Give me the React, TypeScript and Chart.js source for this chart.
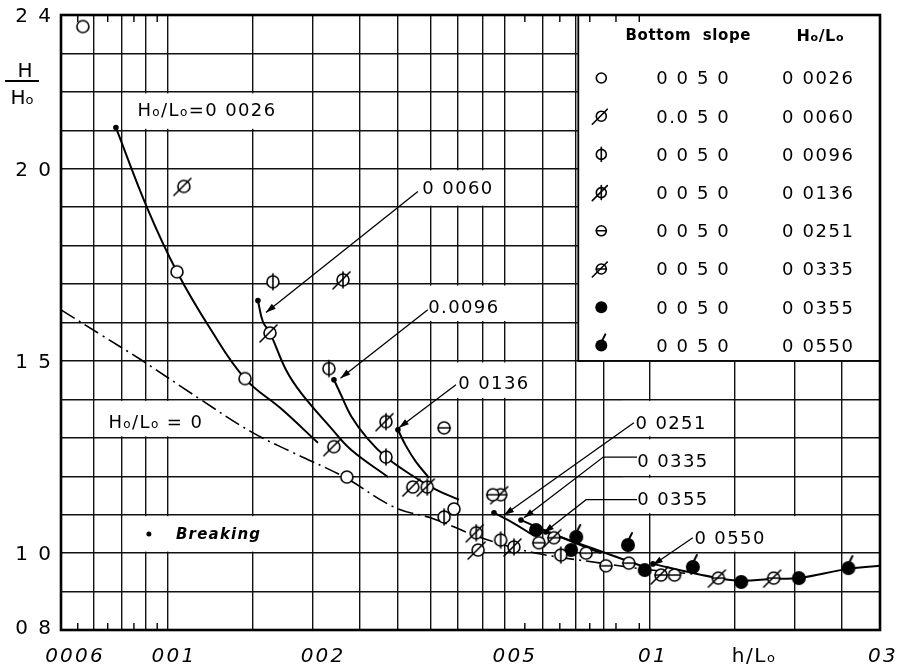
import React, { useEffect, useRef } from "react";
import { Chart, registerables } from "chart.js";
Chart.register(...registerables);

// ---------- axes ----------
const X_MIN = 0.006;
const X_MAX = 0.3;
const Y_MIN = 0.8;
const Y_MAX = 2.4;
const X_GRID = [0.006, 0.007, 0.008, 0.009, 0.01, 0.015, 0.02, 0.025, 0.03, 0.035, 0.04, 0.045, 0.05, 0.06, 0.07, 0.08, 0.1, 0.15, 0.2, 0.25, 0.3];
const X_MINOR = [0.0065, 0.0075, 0.0085, 0.0095, 0.055, 0.065, 0.075, 0.085, 0.095];
const Y_GRID = [0.8, 0.9, 1.0, 1.1, 1.2, 1.3, 1.4, 1.5, 1.6, 1.7, 1.8, 1.9, 2.0, 2.1, 2.2, 2.3, 2.4];
const X_TICK_VALUES = [0.006, 0.01, 0.02, 0.05, 0.1, 0.3];
const X_TICK_LABELS = ["0006", "001", "002", "005", "01", "03"];
const X_TICK_SHIFT = [14, 6, 10, 10, 3, 3];
const Y_TICK_VALUES = [0.8, 1.0, 1.5, 2.0, 2.4];
const Y_TICK_LABELS = ["0 8", "1 0", "1 5", "2 0", "2 4"];
const X_TITLE = "h/Lo";
const X_TITLE_AT = 0.1644;

// ---------- legend ----------
const HOLO_LABELS = ["0 0026", "0 0060", "0 0096", "0 0136", "0 0251", "0 0335", "0 0355", "0 0550"];
const SLOPE_LABELS = ["0 0 5 0", "0.0 5 0", "0 0 5 0", "0 0 5 0", "0 0 5 0", "0 0 5 0", "0 0 5 0", "0 0 5 0"];
const MARKER_KINDS = ["open", "slash", "vbar", "vbarSlash", "hbar", "hbarSlash", "filled", "filledTail"];
const LEGEND_X0 = 0.071;
const LEGEND_Y0 = 1.5;

// ---------- measured points ----------
const X_0026 = [0.00666, 0.01044, 0.01445, 0.0235, 0.0392];
const Y_0026 = [2.37, 1.732, 1.454, 1.198, 1.115];
const X_0060 = [0.01079, 0.01628, 0.02209, 0.0322, 0.044];
const Y_0060 = [1.954, 1.573, 1.277, 1.172, 1.008];
const X_0096 = [0.01651, 0.02157, 0.02833, 0.0374, 0.049, 0.0653];
const Y_0096 = [1.706, 1.48, 1.25, 1.094, 1.034, 0.995];
const X_0136 = [0.02307, 0.02833, 0.0345, 0.0436, 0.0522];
const Y_0136 = [1.711, 1.342, 1.172, 1.053, 1.016];
const X_0251 = [0.0374, 0.0472, 0.0588, 0.0737, 0.081, 0.0904, 0.1124];
const Y_0251 = [1.326, 1.152, 1.027, 1.0, 0.967, 0.974, 0.943];
const X_0335 = [0.049, 0.0632, 0.1054, 0.1386, 0.1805];
const Y_0335 = [1.152, 1.04, 0.943, 0.935, 0.935];
const X_0355 = [0.058, 0.0686, 0.0975, 0.1546, 0.2036];
const Y_0355 = [1.06, 1.008, 0.956, 0.925, 0.935];
const X_0550 = [0.0703, 0.09, 0.1227, 0.258];
const Y_0550 = [1.042, 1.021, 0.964, 0.961];

// ---------- fitted curves ----------
const CX_ZERO = [0.006, 0.00726, 0.00879, 0.01171, 0.01486, 0.01799, 0.0232, 0.02943, 0.03564, 0.04193, 0.04612, 0.05744, 0.07912, 0.1005, 0.1227];
const CY_ZERO = [1.633, 1.568, 1.503, 1.399, 1.316, 1.264, 1.198, 1.12, 1.089, 1.053, 1.034, 1.001, 0.974, 0.956, 0.946];
const CX_0026 = [0.0078, 0.00905, 0.01044, 0.01228, 0.01445, 0.01716, 0.02047];
const CY_0026 = [2.107, 1.899, 1.732, 1.581, 1.454, 1.376, 1.287];
const CX_0060 = [0.01537, 0.01574, 0.01628, 0.01757, 0.01888, 0.02178, 0.02398, 0.02861];
const CY_0060 = [1.657, 1.602, 1.573, 1.477, 1.417, 1.326, 1.269, 1.198];
const CX_0096 = [0.0221, 0.02285, 0.02398, 0.02587, 0.02833, 0.03192, 0.03597, 0.04015];
const CY_0096 = [1.451, 1.412, 1.357, 1.3, 1.25, 1.204, 1.165, 1.139];
const CX_0136 = [0.03, 0.03117, 0.0327, 0.03479];
const CY_0136 = [1.321, 1.279, 1.2375, 1.196];
const CX_0251 = [0.04746, 0.05197, 0.05663];
const CY_0251 = [1.105, 1.079, 1.05];
const CX_0335 = [0.054, 0.0653, 0.0791];
const CY_0335 = [1.086, 1.042, 1.0];
const CX_0355 = [0.0608, 0.0754, 0.0958];
const CY_0355 = [1.055, 1.014, 0.967];
const CX_0550 = [0.1014, 0.1227, 0.1386, 0.1546, 0.1805, 0.2036, 0.258, 0.3];
const CY_0550 = [0.972, 0.948, 0.935, 0.928, 0.933, 0.935, 0.959, 0.967];

// breaking points
const BREAK_X = [0.0078, 0.01537, 0.0221, 0.03, 0.04746, 0.054, 0.0608, 0.1014];
const BREAK_Y = [2.107, 1.657, 1.451, 1.321, 1.105, 1.086, 1.055, 0.972];

// ---------- annotations ----------
const NOTE_TEXT = ["Ho/Lo=0 0026", "0 0060", "0.0096", "0 0136", "0 0251", "0 0335", "0 0355", "0 0550", "Ho/Lo = 0"];
const NOTE_X = [0.01205, 0.03997, 0.0411, 0.04746, 0.1106, 0.1116, 0.1116, 0.1466, 0.00944];
const NOTE_Y = [2.155, 1.951, 1.641, 1.443, 1.339, 1.24, 1.141, 1.04, 1.342];
const BOX_X0 = [0.008, 0.031, 0.034, 0.035, 0.087, 0.087, 0.087, 0.108, 0.007, 0.008];
const BOX_X1 = [0.0189, 0.049, 0.051, 0.06, 0.15, 0.15, 0.15, 0.21, 0.015, 0.017];
const BOX_Y0 = [2.1, 1.9, 1.6, 1.4, 1.3, 1.2, 1.1, 1.0, 1.3, 1.0];
const BOX_Y1 = [2.2, 2.0, 1.7, 1.5, 1.4, 1.3, 1.2, 1.1, 1.4, 1.1];
const BREAK_NOTE = "Breaking";
const BREAK_NOTE_X = 0.01039;
const BREAK_NOTE_DOT_X = 0.00913;
const BREAK_NOTE_Y = 1.05;

const LEADER_X = [
  [0.033, 0.01597],
  [0.0346, 0.0228],
  [0.03958, 0.03015],
  [0.0926, 0.0498],
  [0.094, 0.08, 0.05478],
  [0.094, 0.0737, 0.06026],
  [0.1227, 0.1014],
];
const LEADER_Y = [
  [1.941, 1.626],
  [1.633, 1.455],
  [1.438, 1.326],
  [1.339, 1.099],
  [1.25, 1.25, 1.092],
  [1.139, 1.139, 1.053],
  [1.04, 0.969],
];

const FONT = '"DejaVu Sans", "Liberation Sans", sans-serif';

function drawMarker(ctx: CanvasRenderingContext2D, kind: string, cx: number, cy: number, r: number) {
  ctx.save();
  ctx.lineWidth = 1.6;
  ctx.strokeStyle = "#000";
  ctx.lineCap = "round";
  const filled = kind === "filled" || kind === "filledTail";
  ctx.beginPath();
  ctx.arc(cx, cy, filled ? r + 1 : r, 0, Math.PI * 2);
  if (filled) {
    ctx.fillStyle = "#000";
    ctx.fill();
  } else {
    ctx.fillStyle = "#fff";
    ctx.fill();
    ctx.stroke();
  }
  const line = (x1: number, y1: number, x2: number, y2: number) => {
    ctx.beginPath();
    ctx.moveTo(x1, y1);
    ctx.lineTo(x2, y2);
    ctx.stroke();
  };
  if (kind === "vbar" || kind === "vbarSlash") line(cx, cy - r - 2, cx, cy + r + 2);
  if (kind === "hbar" || kind === "hbarSlash") line(cx - r, cy, cx + r, cy);
  if (kind === "slash" || kind === "vbarSlash" || kind === "hbarSlash")
    line(cx - r - 4, cy + r + 3, cx + r + 1, cy - r - 2);
  if (kind === "filledTail") {
    ctx.lineWidth = 2;
    line(cx + 1, cy - r, cx + 4, cy - r - 6);
  }
  ctx.restore();
}

function makeMarker(kind: string, r: number) {
  const c = document.createElement("canvas");
  c.width = 32;
  c.height = 32;
  const ctx = c.getContext("2d")!;
  drawMarker(ctx, kind, 16, 16, r);
  return c;
}

function richText(
  ctx: CanvasRenderingContext2D,
  text: string,
  x: number,
  y: number,
  size: number,
  align: "left" | "center" | "right",
  weight = "normal",
  style = "normal",
  spacing = 1
) {
  const runs: { t: string; small: boolean }[] = [];
  for (let i = 0; i < text.length; i++) {
    const ch = text[i];
    const small = ch === "o" && i > 0 && (text[i - 1] === "H" || text[i - 1] === "L");
    if (runs.length && runs[runs.length - 1].small === small) runs[runs.length - 1].t += ch;
    else runs.push({ t: ch, small });
  }
  const bigF = `${style} ${weight} ${size}px ${FONT}`;
  const smF = `${style} ${weight} ${Math.round(size * 0.66)}px ${FONT}`;
  ctx.save();
  (ctx as any).letterSpacing = `${spacing}px`;
  ctx.textAlign = "left";
  ctx.textBaseline = "alphabetic";
  ctx.fillStyle = "#000";
  const widths = runs.map((r) => {
    ctx.font = r.small ? smF : bigF;
    return ctx.measureText(r.t).width;
  });
  const total = widths.reduce((a, b) => a + b, 0);
  let cx = align === "left" ? x : align === "center" ? x - total / 2 : x - total;
  const base = y + size * 0.36;
  runs.forEach((r, i) => {
    ctx.font = r.small ? smF : bigF;
    ctx.fillText(r.t, cx, base);
    cx += widths[i];
  });
  ctx.restore();
}

const pts = (xs: number[], ys: number[]) => xs.map((x, i) => ({ x, y: ys[i] }));

export default function App() {
  const ref = useRef<HTMLCanvasElement | null>(null);
  useEffect(() => {
    const canvas = ref.current;
    if (!canvas) return;

    const markerSets = [
      [X_0026, Y_0026],
      [X_0060, Y_0060],
      [X_0096, Y_0096],
      [X_0136, Y_0136],
      [X_0251, Y_0251],
      [X_0335, Y_0335],
      [X_0355, Y_0355],
      [X_0550, Y_0550],
    ];
    const curveSets = [
      [CX_0026, CY_0026],
      [CX_0060, CY_0060],
      [CX_0096, CY_0096],
      [CX_0136, CY_0136],
      [CX_0251, CY_0251],
      [CX_0335, CY_0335],
      [CX_0355, CY_0355],
      [CX_0550, CY_0550],
    ];

    const datasets: any[] = [];
    markerSets.forEach(([xs, ys], i) => {
      datasets.push({
        label: "Ho/Lo " + HOLO_LABELS[i],
        data: pts(xs, ys),
        pointStyle: makeMarker(MARKER_KINDS[i], 6),
        pointRadius: 6,
        showLine: false,
        order: 0,
      });
    });
    datasets.push({
      label: "Breaking",
      data: pts(BREAK_X, BREAK_Y),
      pointStyle: "circle",
      pointRadius: 2.8,
      backgroundColor: "#000",
      borderColor: "#000",
      borderWidth: 0,
      showLine: false,
      order: 1,
    });
    curveSets.forEach(([xs, ys], i) => {
      datasets.push({
        label: "curve " + HOLO_LABELS[i],
        data: pts(xs, ys),
        showLine: true,
        pointRadius: 0,
        borderColor: "#000",
        borderWidth: 2,
        tension: 0.4,
        fill: false,
        order: 2,
      });
    });
    datasets.push({
      label: "Ho/Lo = 0",
      data: pts(CX_ZERO, CY_ZERO),
      showLine: true,
      pointRadius: 0,
      borderColor: "#000",
      borderWidth: 1.6,
      borderDash: [16, 5, 2, 5],
      tension: 0.4,
      fill: false,
      order: 2,
    });

    const paper = {
      id: "paper",
      beforeDraw(chart: any) {
        const ctx = chart.ctx;
        ctx.save();
        ctx.fillStyle = "#fff";
        ctx.fillRect(0, 0, chart.width, chart.height);
        ctx.restore();
      },
      beforeDatasetsDraw(chart: any) {
        const ctx: CanvasRenderingContext2D = chart.ctx;
        const xs = chart.scales.x;
        const ys = chart.scales.y;
        const ca = chart.chartArea;
        const px = (v: number) => xs.getPixelForValue(v);
        const py = (v: number) => ys.getPixelForValue(v);
        ctx.save();
        // white label boxes
        ctx.fillStyle = "#fff";
        for (let i = 0; i < BOX_X0.length; i++) {
          const x0 = px(BOX_X0[i]) + 1.5;
          const x1 = px(BOX_X1[i]) - 1.5;
          const y0 = py(BOX_Y1[i]) + 1.5;
          const y1 = py(BOX_Y0[i]) - 1.5;
          ctx.fillRect(x0, y0, x1 - x0, y1 - y0);
        }
        // legend box
        const lx = px(LEGEND_X0);
        const lb = py(LEGEND_Y0);
        ctx.fillRect(lx, ca.top, ca.right - lx, lb - ca.top);
        ctx.strokeStyle = "#000";
        ctx.lineWidth = 1.8;
        ctx.strokeRect(lx, ca.top, ca.right - lx, lb - ca.top);
        richText(ctx, "Bottom  slope", lx + 110, ca.top + 20, 15, "center", "bold", "normal", 0.6);
        richText(ctx, "Ho/Lo", lx + 242, ca.top + 20, 16, "center", "bold", "normal", 0.6);
        for (let i = 0; i < HOLO_LABELS.length; i++) {
          const ry = ca.top + 63 + i * 38.2;
          drawMarker(ctx, MARKER_KINDS[i], lx + 23, ry, 5);
          richText(ctx, SLOPE_LABELS[i], lx + 115, ry, 18, "center", "normal", "normal", 1.6);
          richText(ctx, HOLO_LABELS[i], lx + 240, ry, 18, "center", "normal", "normal", 1.6);
        }
        // leaders with arrowheads
        ctx.strokeStyle = "#000";
        ctx.fillStyle = "#000";
        ctx.lineWidth = 1.3;
        for (let i = 0; i < LEADER_X.length; i++) {
          const lxs = LEADER_X[i].map(px);
          const lys = LEADER_Y[i].map(py);
          ctx.beginPath();
          ctx.moveTo(lxs[0], lys[0]);
          for (let k = 1; k < lxs.length; k++) ctx.lineTo(lxs[k], lys[k]);
          ctx.stroke();
          const n = lxs.length - 1;
          const ang = Math.atan2(lys[n] - lys[n - 1], lxs[n] - lxs[n - 1]);
          const L = 10, W = 3.2;
          ctx.beginPath();
          ctx.moveTo(lxs[n], lys[n]);
          ctx.lineTo(lxs[n] - L * Math.cos(ang) + W * Math.sin(ang), lys[n] - L * Math.sin(ang) - W * Math.cos(ang));
          ctx.lineTo(lxs[n] - L * Math.cos(ang) - W * Math.sin(ang), lys[n] - L * Math.sin(ang) + W * Math.cos(ang));
          ctx.closePath();
          ctx.fill();
        }
        // annotation texts
        for (let i = 0; i < NOTE_TEXT.length; i++) {
          richText(ctx, NOTE_TEXT[i], px(NOTE_X[i]), py(NOTE_Y[i]), 18, "center", "normal", "normal", 1.4);
        }
        ctx.beginPath();
        ctx.arc(px(BREAK_NOTE_DOT_X), py(BREAK_NOTE_Y), 2.5, 0, Math.PI * 2);
        ctx.fill();
        richText(ctx, BREAK_NOTE, px(BREAK_NOTE_X), py(BREAK_NOTE_Y), 15, "left", "bold", "italic", 1.2);
        ctx.restore();
      },
      afterDatasetsDraw(chart: any) {
        const ctx: CanvasRenderingContext2D = chart.ctx;
        const xs = chart.scales.x;
        const ys = chart.scales.y;
        const ca = chart.chartArea;
        ctx.save();
        ctx.strokeStyle = "#000";
        // minor ticks
        ctx.lineWidth = 1.4;
        X_MINOR.forEach((v) => {
          const x = xs.getPixelForValue(v);
          ctx.beginPath();
          ctx.moveTo(x, ca.bottom);
          ctx.lineTo(x, ca.bottom - 7);
          ctx.moveTo(x, ca.top);
          ctx.lineTo(x, ca.top + 7);
          ctx.stroke();
        });
        // frame
        ctx.lineWidth = 2.6;
        ctx.strokeRect(ca.left, ca.top, ca.right - ca.left, ca.bottom - ca.top);
        // tick labels
        X_TICK_VALUES.forEach((v, i) => {
          richText(ctx, X_TICK_LABELS[i], xs.getPixelForValue(v) + X_TICK_SHIFT[i], ca.bottom + 25, 20, "center", "normal", "italic", 2.2);
        });
        richText(ctx, X_TITLE, xs.getPixelForValue(X_TITLE_AT), ca.bottom + 25, 20, "center", "normal", "normal", 1.5);
        Y_TICK_VALUES.forEach((v, i) => {
          const y = Math.min(ys.getPixelForValue(v), ca.bottom - 3);
          richText(ctx, Y_TICK_LABELS[i], ca.left - 8, y, 20, "right", "normal", "normal", 2);
        });
        // y title as fraction H / Ho
        richText(ctx, "H", 25, 70, 20, "center", "normal", "normal", 0);
        ctx.lineWidth = 2;
        ctx.beginPath();
        ctx.moveTo(5, 81);
        ctx.lineTo(39, 81);
        ctx.stroke();
        richText(ctx, "Ho", 22, 97, 20, "center", "normal", "normal", 0);
        ctx.restore();
      },
    };

    const chart = new Chart(canvas, {
      type: "scatter",
      data: { datasets },
      options: {
        responsive: false,
        animation: false,
        events: [],
        layout: { padding: { left: 61, top: 15, right: 25, bottom: 41 } },
        plugins: { legend: { display: false }, tooltip: { enabled: false } },
        scales: {
          x: {
            type: "logarithmic",
            min: X_MIN,
            max: X_MAX,
            afterBuildTicks: (s: any) => {
              s.ticks = X_GRID.map((v) => ({ value: v }));
            },
            ticks: { display: false },
            grid: { color: "#111", lineWidth: 1.4, drawTicks: false },
            border: { display: false },
          },
          y: {
            type: "linear",
            min: Y_MIN,
            max: Y_MAX,
            afterBuildTicks: (s: any) => {
              s.ticks = Y_GRID.map((v) => ({ value: v }));
            },
            ticks: { display: false },
            grid: { color: "#111", lineWidth: 1.4, drawTicks: false },
            border: { display: false },
          },
        },
      } as any,
      plugins: [paper],
    });
    return () => chart.destroy();
  }, []);

  return (
    <div style={{ position: "absolute", left: 0, top: 0, width: 905, height: 671, background: "#fff" }}>
      <canvas ref={ref} width={905} height={671} style={{ width: 905, height: 671, display: "block" }} />
    </div>
  );
}
